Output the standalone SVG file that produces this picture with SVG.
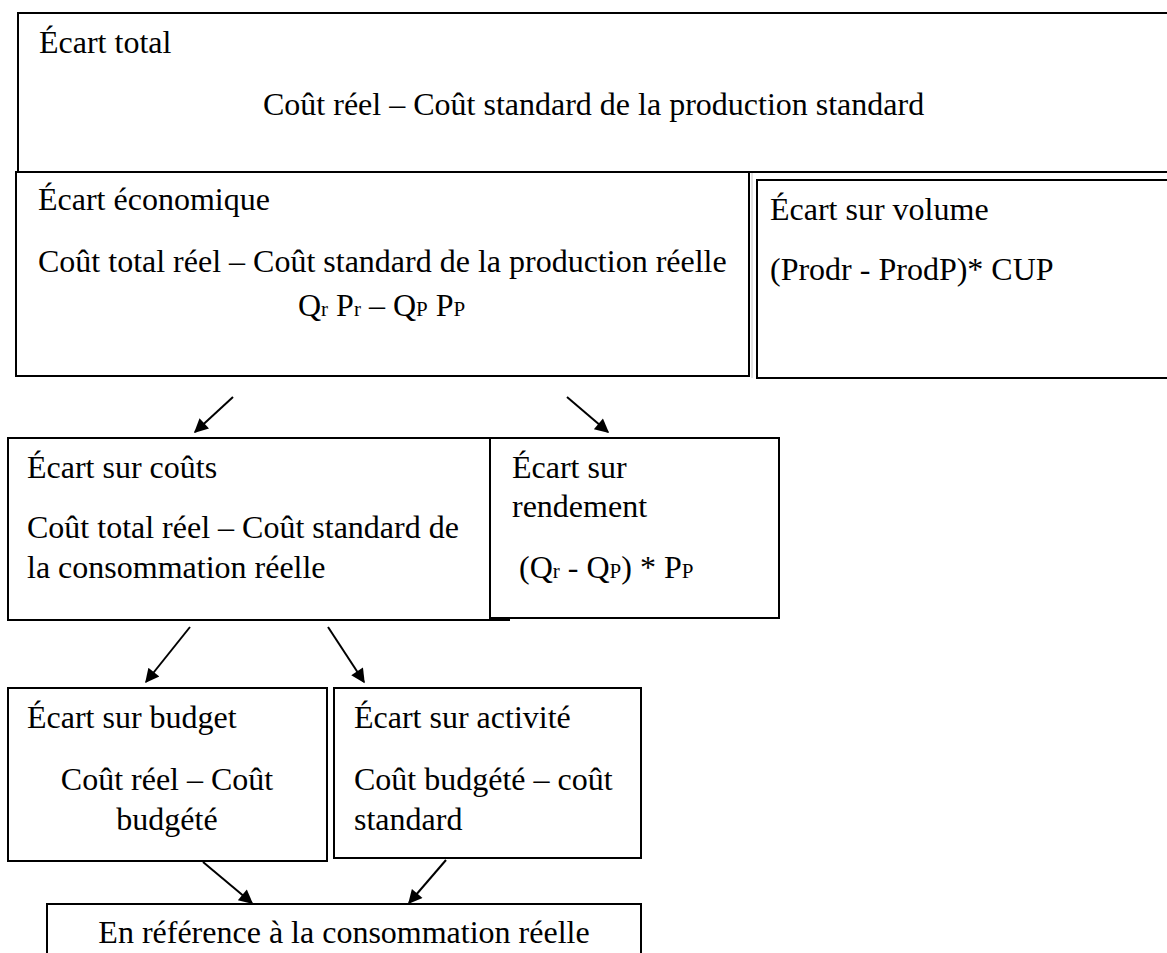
<svg xmlns="http://www.w3.org/2000/svg" width="1167" height="953" viewBox="0 0 1167 953">
  <style>
    .box { fill: #ffffff; stroke: #000000; stroke-width: 2; }
    .edge { fill: none; stroke: #000000; stroke-width: 2; }
    .t { font-family: "Liberation Serif", "Times New Roman", serif; font-size: 32px; fill: #000000; }
    .sub { font-size: 21px; }
    .conn { fill: none; stroke: #000000; stroke-width: 2; }
  </style>
  <defs>
    <marker id="arrow" viewBox="0 0 10 10" refX="9" refY="5" markerWidth="8" markerHeight="7" markerUnits="strokeWidth" orient="auto">
      <path d="M0,0 L10,5 L0,10 Z" fill="#000000"/>
    </marker>
  </defs>
  <rect width="1167" height="953" fill="#ffffff"/>

  <!-- Écart total -->
  <g id="ecart-total">
    <path class="edge" d="M1170,13 H18 V172 H1170"/>
    <text class="t" x="39" y="53">Écart total</text>
    <text class="t" x="263" y="115">Coût réel – Coût standard de la production standard</text>
  </g>

  <!-- Écart économique -->
  <g id="ecart-economique">
    <rect class="box" x="16" y="172" width="733" height="204"/>
    <text class="t" x="38" y="210">Écart économique</text>
    <text class="t" x="38" y="272">Coût total réel – Coût standard de la production réelle</text>
    <text class="t" x="298" y="316">Q<tspan class="sub">r</tspan> P<tspan class="sub">r</tspan> – Q<tspan class="sub">P</tspan> P<tspan class="sub">P</tspan></text>
  </g>

  <!-- Écart sur volume -->
  <g id="ecart-volume">
    <line x1="752" y1="173" x2="752" y2="378" stroke="#c8c8c8" stroke-width="1"/>
    <rect class="box" x="757" y="180" width="420" height="198"/>
    <text class="t" x="770" y="220">Écart sur volume</text>
    <text class="t" x="770" y="280">(Prodr - ProdP)* CUP</text>
  </g>

  <!-- Écart sur coûts -->
  <g id="ecart-couts">
    <path class="edge" d="M490,438 H8 V620 H510"/>
    <text class="t" x="27" y="478">Écart sur coûts</text>
    <text class="t" x="27" y="538">Coût total réel – Coût standard de</text>
    <text class="t" x="27" y="578">la consommation réelle</text>
  </g>

  <!-- Écart sur rendement -->
  <g id="ecart-rendement">
    <rect class="box" x="490" y="438" width="289" height="180"/>
    <text class="t" x="512" y="478">Écart sur</text>
    <text class="t" x="512" y="517">rendement</text>
    <text class="t" x="519" y="578">(Q<tspan class="sub">r</tspan> - Q<tspan class="sub">P</tspan>) * P<tspan class="sub">P</tspan></text>
  </g>

  <!-- Écart sur budget -->
  <g id="ecart-budget">
    <rect class="box" x="8" y="688" width="319" height="173"/>
    <text class="t" x="27" y="728">Écart sur budget</text>
    <text class="t" x="167" y="790" text-anchor="middle">Coût réel – Coût</text>
    <text class="t" x="167" y="830" text-anchor="middle">budgété</text>
  </g>

  <!-- Écart sur activité -->
  <g id="ecart-activite">
    <rect class="box" x="334" y="688" width="307" height="170"/>
    <text class="t" x="354" y="728">Écart sur activité</text>
    <text class="t" x="354" y="790">Coût budgété – coût</text>
    <text class="t" x="354" y="830">standard</text>
  </g>

  <!-- En référence à la consommation réelle -->
  <g id="reference-consommation">
    <rect class="box" x="47" y="904" width="594" height="60"/>
    <text class="t" x="344" y="943" text-anchor="middle">En référence à la consommation réelle</text>
  </g>

  <!-- connectors -->
  <g id="connectors">
    <line class="conn" x1="233" y1="397" x2="195" y2="432" marker-end="url(#arrow)"/>
    <line class="conn" x1="567" y1="397" x2="608" y2="432" marker-end="url(#arrow)"/>
    <line class="conn" x1="190" y1="627" x2="146" y2="682" marker-end="url(#arrow)"/>
    <line class="conn" x1="328" y1="627" x2="364" y2="682" marker-end="url(#arrow)"/>
    <line class="conn" x1="203" y1="862" x2="252" y2="903" marker-end="url(#arrow)"/>
    <line class="conn" x1="446" y1="860" x2="409" y2="903" marker-end="url(#arrow)"/>
  </g>
</svg>
